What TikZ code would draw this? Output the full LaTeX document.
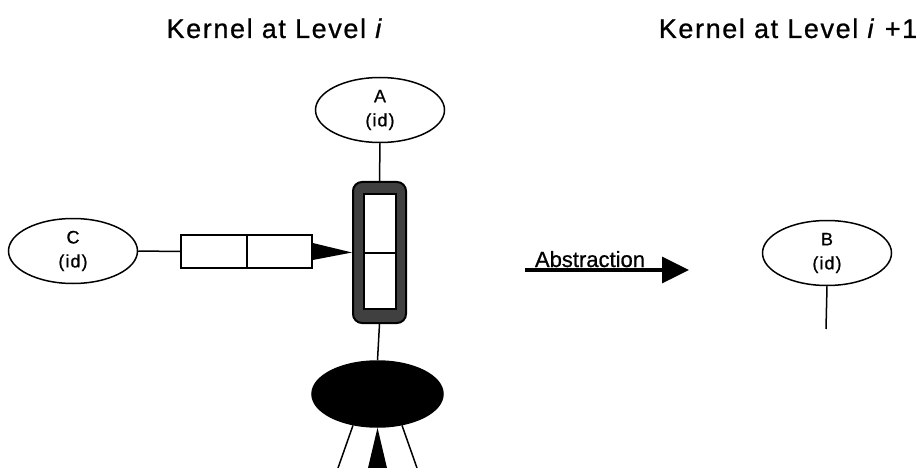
\documentclass[tikz,border=0pt]{standalone}
\usepackage{fontspec}
\setmainfont[FakeBold=0.8]{Liberation Sans}
\newfontfamily\titlefont[LetterSpace=6,FakeBold=0.8]{Liberation Sans}
\newfontfamily\labelfont[LetterSpace=6,FakeBold=0.8]{Liberation Sans}
\usetikzlibrary{shapes.geometric,arrows.meta}

\begin{document}
\begin{tikzpicture}[x=1pt,y=-1pt,
    kernel/.style={ellipse,draw,line width=1.5pt,minimum width=129pt,minimum height=65pt,
      inner sep=0pt,align=center,font=\labelfont\fontsize{18}{24}\selectfont},
    cell/.style={rectangle,draw,line width=1.5pt,fill=white,inner sep=0pt},
    link/.style={line width=1.5pt}]
    \useasboundingbox (0,0) rectangle (924,468);

    % Titles of the two levels
    \node[anchor=base] (tleft) at (275,38) {\titlefont\fontsize{27}{27}\selectfont Kernel at Level \textit{i}};
    \node[anchor=base] (tright) at (788,38) {\titlefont\fontsize{27}{27}\selectfont Kernel at Level \textit{i} +1};

    % Kernel objects
    \node[kernel] (A) at (380,110) {A\\(id)};
    \node[kernel] (C) at (73,251) {C\\(id)};
    \node[kernel] (B) at (827,253) {B\\(id)};

    % Shaded port with its two cells
    \node[draw,line width=2pt,fill=gray!50!black,rounded corners=9pt,
      minimum width=53pt,minimum height=141pt,inner sep=0pt] (bar) at (379.5,252.5) {};
    \node[cell,minimum width=32pt,minimum height=59pt] (top) at (380,223.5) {};
    \node[cell,minimum width=32pt,minimum height=56pt] (bottom) at (380,281) {};

    % Queue of two cells
    \node[cell,minimum width=66pt,minimum height=33pt] (qa) at (214,251.5) {};
    \node[cell,minimum width=65pt,minimum height=33pt] (qb) at (279.5,251.5) {};

    % Dark object below
    \node[ellipse,draw,line width=1.5pt,fill=black,minimum width=131pt,minimum height=66pt,
      inner sep=0pt] (hub) at (377.5,394) {};

    % Free ends
    \coordinate (legL) at (338,468);
    \coordinate (legR) at (417,468);
    \coordinate (stemL) at (368,468);
    \coordinate (stemR) at (387,468);
    \coordinate (absS) at (525,270);
    \coordinate (absE) at (689,270);
    \coordinate (bEnd) at (826,329);

    % Connectors
    \draw[link] (A.south) -- (bar.north);
    \draw[link] (C.east) -- (qa.west);
    \fill ([yshift=8.5pt]qb.east) -- (bar.west) -- ([yshift=-8.5pt]qb.east) -- cycle;
    \draw[link] (bar.south) -- (hub.north);
    \draw[link] (hub.232) -- (legL);
    \draw[link] (hub.308) -- (legR);
    \fill (hub.south) -- (stemR) -- (stemL) -- cycle;
    \draw[link] (B.south) -- (bEnd);

    % Abstraction arrow
    \draw[line width=3.5pt,-{Triangle[length=27pt,width=26pt]}] (absS) -- (absE);
    \node[anchor=base,font=\fontsize{22}{22}\selectfont] (abs) at (590,267) {Abstraction};

\end{tikzpicture}
\end{document}
